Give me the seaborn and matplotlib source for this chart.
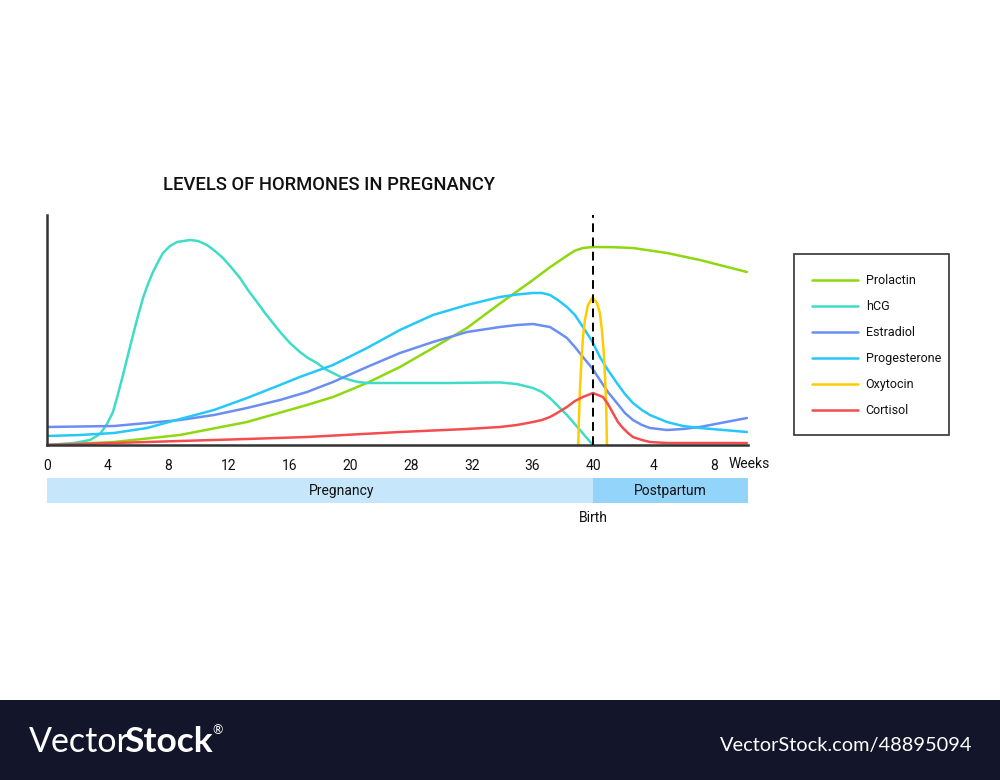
import numpy as np
import pandas as pd
import matplotlib
matplotlib.use("Agg")
import matplotlib.pyplot as plt
from matplotlib.patches import Rectangle
import seaborn as sns

# ---------------- data ----------------
# x = position on the week axis in tick slots (0 -> week 0, 9 -> week 40 / birth, 11 -> 8 weeks postpartum)
# y = relative hormone level (0-100 % of plot height)
tick_labels = ["0", "4", "8", "12", "16", "20", "28", "32", "36", "40", "4", "8"]
hormones = ["Prolactin", "hCG", "Estradiol", "Progesterone", "Oxytocin", "Cortisol"]
colors = ["#8fd80f", "#3fdcc6", "#6b8ef2", "#25c8f7", "#ffcc00", "#f44d4f"]

prolactin_x = [0, 1.104, 2.191, 3.295, 4.283, 4.712, 5.272, 5.815, 6.359, 6.919, 7.463, 8.007,
               8.287, 8.567, 8.698, 8.830, 8.995, 9.325, 9.654, 10.214, 10.758, 11.532]
prolactin_y = [0, 1.30, 4.35, 10.0, 17.39, 20.87, 26.96, 33.91, 42.17, 50.87, 61.52, 71.74,
               77.3, 82.3, 84.5, 85.65, 86.09, 86.0, 85.65, 83.48, 80.43, 75.22]

hcg_x = [0, 0.445, 0.708, 0.873, 0.988, 1.087, 1.170, 1.252, 1.334, 1.417, 1.499, 1.582, 1.664,
         1.746, 1.829, 1.911, 2.026, 2.142, 2.356, 2.488, 2.636, 2.768, 2.900, 3.031, 3.180,
         3.311, 3.460, 3.591, 3.723, 3.855, 4.003, 4.168, 4.300, 4.448, 4.580, 4.712, 4.843,
         4.992, 5.124, 5.272, 5.815, 6.639, 7.463, 7.743, 8.007, 8.155, 8.287, 8.418, 8.567,
         8.666, 8.781, 8.880, 8.995]
hcg_y = [0, 0.87, 2.17, 4.78, 9.13, 14.35, 22.17, 30.43, 39.13, 47.83, 56.09, 63.91, 70.0,
         75.22, 79.57, 83.48, 86.52, 88.26, 89.13, 88.70, 86.96, 84.35, 81.30, 77.39, 72.61,
         67.39, 62.17, 57.39, 53.04, 48.70, 44.35, 40.43, 37.83, 35.65, 33.04, 31.30, 29.57,
         28.26, 27.39, 26.96, 26.96, 26.96, 27.2, 26.5, 24.78, 23.04, 20.43, 16.96, 13.04,
         10.0, 6.52, 3.48, 0]

estradiol_x = [0, 1.104, 1.647, 2.191, 2.751, 3.295, 3.839, 4.283, 4.712, 5.272, 5.815, 6.359,
               6.919, 7.463, 7.743, 8.007, 8.287, 8.418, 8.567, 8.698, 8.830, 8.979, 9.110,
               9.242, 9.390, 9.522, 9.654, 9.802, 9.934, 10.214, 10.478, 10.758, 11.532]
estradiol_y = [7.83, 8.26, 9.57, 10.87, 13.04, 16.09, 19.57, 23.04, 27.39, 33.91, 40.0, 44.78,
               49.13, 51.30, 52.17, 52.61, 51.30, 49.13, 46.52, 42.61, 38.26, 33.5, 28.26,
               23.04, 18.26, 13.91, 10.87, 8.70, 7.39, 6.52, 6.96, 7.83, 11.74]

progesterone_x = [0, 0.544, 1.104, 1.647, 2.191, 2.751, 3.295, 3.839, 4.168, 4.712, 5.272, 5.815,
                  6.359, 6.919, 7.463, 7.743, 8.007, 8.155, 8.287, 8.418, 8.567, 8.698, 8.830,
                  8.979, 9.110, 9.242, 9.390, 9.522, 9.654, 9.802, 9.934, 10.214, 10.478,
                  10.758, 11.532]
progesterone_y = [3.91, 4.35, 5.22, 7.39, 11.30, 15.22, 20.43, 26.1, 29.6, 34.78, 42.17, 50.0,
                  56.52, 60.87, 64.35, 65.43, 66.09, 66.09, 65.22, 63.04, 60.0, 56.52, 51.30,
                  45.22, 38.26, 32.61, 26.96, 22.17, 18.26, 15.22, 13.04, 10.0, 8.26, 7.39, 5.65]

oxytocin_x = [8.753, 8.764, 8.781, 8.806, 8.830, 8.863, 8.913, 8.987, 9.061, 9.110, 9.143,
              9.176, 9.201, 9.217, 9.226]
oxytocin_y = [0, 10.87, 23.91, 36.96, 46.52, 54.35, 60.87, 64.13, 61.74, 57.39, 50.0,
              39.13, 26.09, 13.04, 0]

cortisol_x = [0, 1.104, 2.191, 3.295, 4.283, 5.815, 6.919, 7.463, 7.743, 8.007, 8.155, 8.287,
              8.418, 8.567, 8.698, 8.830, 8.912, 8.995, 9.077, 9.160, 9.242, 9.325, 9.407,
              9.489, 9.572, 9.654, 9.802, 9.934, 10.214, 10.478, 11.532]
cortisol_y = [0, 0.87, 1.74, 2.61, 3.48, 5.65, 6.96, 7.83, 8.70, 10.0, 10.87, 12.17,
              14.13, 16.52, 19.13, 20.87, 21.74, 22.61, 21.74, 20.87, 17.83, 13.91, 10.0,
              7.39, 5.22, 3.48, 2.17, 1.30, 0.87, 0.87, 0.87]

phases = ["Pregnancy", "Postpartum"]
phase_start = [0, 9]
phase_end = [9, 11.55]
phase_colors = ["#c6e7fb", "#93d4fa"]
birth_pos = 9

series = {
    "Prolactin": (prolactin_x, prolactin_y),
    "hCG": (hcg_x, hcg_y),
    "Estradiol": (estradiol_x, estradiol_y),
    "Progesterone": (progesterone_x, progesterone_y),
    "Oxytocin": (oxytocin_x, oxytocin_y),
    "Cortisol": (cortisol_x, cortisol_y),
}
df = pd.concat(
    [pd.DataFrame({"pos": xs, "level": ys, "hormone": h}) for h, (xs, ys) in series.items()],
    ignore_index=True,
)

# ---------------- style ----------------
sns.set_theme(style="white")
plt.rcParams["font.family"] = ["Roboto", "DejaVu Sans"]

W, H = 1000, 780
fig = plt.figure(figsize=(10, 7.8), dpi=100)
fig.patch.set_facecolor("white")

def fx(px):
    return px / W

def fy(py):
    return 1 - py / H

ax = fig.add_axes([fx(47), fy(445), fx(748) - fx(47), fy(215) - fy(445)])
ax.set_facecolor("none")

sns.lineplot(data=df, x="pos", y="level", hue="hormone", hue_order=hormones,
             palette=dict(zip(hormones, colors)), estimator=None, sort=False,
             linewidth=1.8, ax=ax)

ax.axvline(birth_pos, color="black", lw=1.4, ls=(0, (4.5, 2.8)), zorder=5)

ax.set_xlim(0, 11.55)
ax.set_ylim(0, 100)
ax.set_xticks(range(len(tick_labels)))
ax.set_xticklabels(tick_labels, fontsize=10, color="#111111")
ax.set_yticks([])
ax.set_xlabel("")
ax.set_ylabel("")
ax.tick_params(axis="x", length=0, pad=10)
for s in ["top", "right"]:
    ax.spines[s].set_visible(False)
for s in ["left", "bottom"]:
    ax.spines[s].set_color("#333333")
    ax.spines[s].set_linewidth(1.8)
ax.annotate("Weeks", xy=(11.565, 0), xycoords=("data", "axes fraction"),
            xytext=(0, -19), textcoords="offset pixels", ha="center", va="center",
            fontsize=10, color="#111111")

# legend (frame drawn separately to match the reference box)
handles, labels = ax.get_legend_handles_labels()
leg = ax.legend(handles, labels, loc="upper left", bbox_to_anchor=(fx(812), fy(274)),
                bbox_transform=fig.transFigure, frameon=False, fontsize=9,
                borderpad=0, labelspacing=1.04, handlelength=3.7, handletextpad=0.6,
                borderaxespad=0)
for t in leg.get_texts():
    t.set_color("#111111")
fig.add_artist(Rectangle((fx(794), fy(435)), (949 - 794) / W, (435 - 254) / H,
                         transform=fig.transFigure, fill=False, edgecolor="#333333",
                         linewidth=1.2))

# title
fig.text(fx(163), fy(185), "LEVELS OF HORMONES IN PREGNANCY", ha="left", va="center",
         fontsize=13.2, fontweight="medium", color="#111111")

# phase band
axb = fig.add_axes([fx(47), fy(503), fx(748) - fx(47), fy(478) - fy(503)])
axb.barh([0, 0], [e - s for s, e in zip(phase_start, phase_end)], left=phase_start,
         height=1, color=phase_colors, edgecolor="none")
axb.set_xlim(0, 11.55)
axb.set_ylim(-0.5, 0.5)
axb.axis("off")
axb.text(4.85, 0, phases[0], ha="center", va="center", fontsize=10, color="#111111")
axb.text((phase_start[1] + phase_end[1]) / 2, 0, phases[1], ha="center", va="center",
         fontsize=10, color="#111111")
fig.text(fx(593), fy(518), "Birth", ha="center", va="center", fontsize=10, color="#111111")

# footer bar
fig.add_artist(Rectangle((0, 0), 1, 80 / H, transform=fig.transFigure,
                         facecolor="#13152a", edgecolor="none"))
fig.text(fx(29), fy(742), "Vector", ha="left", va="center", fontsize=24.5,
         family=["Lato", "DejaVu Sans"], fontweight="normal", color="white")
fig.text(fx(124), fy(742), "Stock", ha="left", va="center", fontsize=25.5,
         family=["Lato", "DejaVu Sans"], fontweight="bold", color="white")
fig.text(fx(212), fy(730), "®", ha="left", va="center", fontsize=9,
         family=["Lato", "DejaVu Sans"], color="white")
fig.text(fx(972), fy(745), "VectorStock.com/48895094", ha="right", va="center",
         fontsize=14.4, family=["Lato", "DejaVu Sans"], color="white")

fig.savefig("out.png", dpi=100, facecolor="white")
